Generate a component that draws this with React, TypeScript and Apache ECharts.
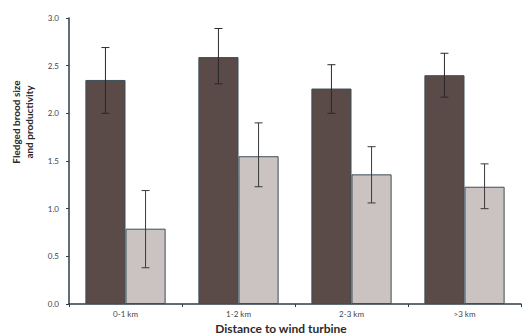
import React, { useEffect, useRef } from "react";
import * as echarts from "echarts";

const categories = ["0-1 km", "1-2 km", "2-3 km", ">3 km"];
const broodSize = [2.35, 2.59, 2.26, 2.4];
const broodLow = [2.0, 2.31, 2.0, 2.17];
const broodHigh = [2.69, 2.89, 2.51, 2.63];
const productivity = [0.79, 1.55, 1.36, 1.23];
const prodLow = [0.38, 1.23, 1.06, 1.0];
const prodHigh = [1.19, 1.9, 1.65, 1.47];
const yTicks = [0, 0.5, 1.0, 1.5, 2.0, 2.5, 3.0];

const FONT = "Lato, 'Open Sans', sans-serif";
const AXIS = "#2f3d47";
const BAR_FRAC = 0.355;

function errorSeries(low: number[], high: number[], side: number, color: string) {
  return {
    type: "custom",
    silent: true,
    z: 5,
    data: categories.map((_, i) => [i, low[i], high[i]]),
    renderItem: (params: any, api: any) => {
      const idx = api.value(0);
      const catW = api.size([1, 0])[0];
      const off = side * catW * BAR_FRAC * 0.5;
      const lo = api.coord([idx, api.value(1)]);
      const hi = api.coord([idx, api.value(2)]);
      const x = lo[0] + off;
      const cap = 4;
      const style = { stroke: color, lineWidth: 1 };
      return {
        type: "group",
        children: [
          { type: "line", shape: { x1: x, y1: lo[1], x2: x, y2: hi[1] }, style },
          { type: "line", shape: { x1: x - cap, y1: lo[1], x2: x + cap, y2: lo[1] }, style },
          { type: "line", shape: { x1: x - cap, y1: hi[1], x2: x + cap, y2: hi[1] }, style },
        ],
      };
    },
  };
}

export default function App() {
  const ref = useRef<HTMLDivElement>(null);
  useEffect(() => {
    if (!ref.current) return;
    const chart = echarts.init(ref.current, null, { renderer: "svg" });
    chart.setOption({
      animation: false,
      backgroundColor: "#ffffff",
      grid: { left: 69, right: 1, top: 18, bottom: 31 },
      xAxis: {
        type: "category",
        data: categories,
        axisLine: { lineStyle: { color: AXIS, width: 1.5 } },
        axisTick: { show: true, length: 3, lineStyle: { color: AXIS } },
        axisLabel: { color: "#3c4650", fontSize: 8, fontFamily: FONT, margin: 6 },
      },
      yAxis: {
        type: "value",
        min: 0,
        max: 3,
        interval: 0.5,
        axisLine: { show: true, lineStyle: { color: AXIS, width: 1.5 } },
        axisTick: { show: true, inside: false, length: 3, lineStyle: { color: AXIS } },
        splitLine: { show: false },
        axisLabel: {
          color: "#3c4650",
          fontSize: 8,
          fontFamily: FONT,
          margin: 10,
          formatter: (v: number) => (yTicks.includes(v) ? v.toFixed(1) : ""),
        },
      },
      series: [
        {
          type: "bar",
          data: broodSize,
          barWidth: BAR_FRAC * 100 + "%",
          barGap: "0%",
          itemStyle: { color: "#5a4a48", borderColor: "#3b4f58", borderWidth: 1 },
        },
        {
          type: "bar",
          data: productivity,
          barWidth: BAR_FRAC * 100 + "%",
          barGap: "0%",
          itemStyle: { color: "#cac3c1", borderColor: "#3b4f58", borderWidth: 1 },
        },
        errorSeries(broodLow, broodHigh, -1, "#2a2a2a"),
        errorSeries(prodLow, prodHigh, 1, "#3a3a3a"),
      ],
      graphic: [
        {
          type: "text",
          x: 281,
          y: 328,
          style: {
            text: "Distance to wind turbine",
            fontFamily: FONT,
            fontWeight: "bold",
            fontSize: 12,
            fill: "#2b2b2b",
            textAlign: "center",
            textVerticalAlign: "middle",
          },
        },
        {
          type: "text",
          x: 22,
          y: 122,
          rotation: Math.PI / 2,
          style: {
            text: "Fledged brood size\nand productivity",
            fontFamily: FONT,
            fontWeight: "bold",
            fontSize: 10,
            lineHeight: 13,
            fill: "#2b2b2b",
            textAlign: "center",
            textVerticalAlign: "middle",
          },
        },
      ],
    });
    return () => chart.dispose();
  }, []);
  return <div ref={ref} style={{ width: 522, height: 335, position: "absolute", left: 0, top: 0 }} />;
}
